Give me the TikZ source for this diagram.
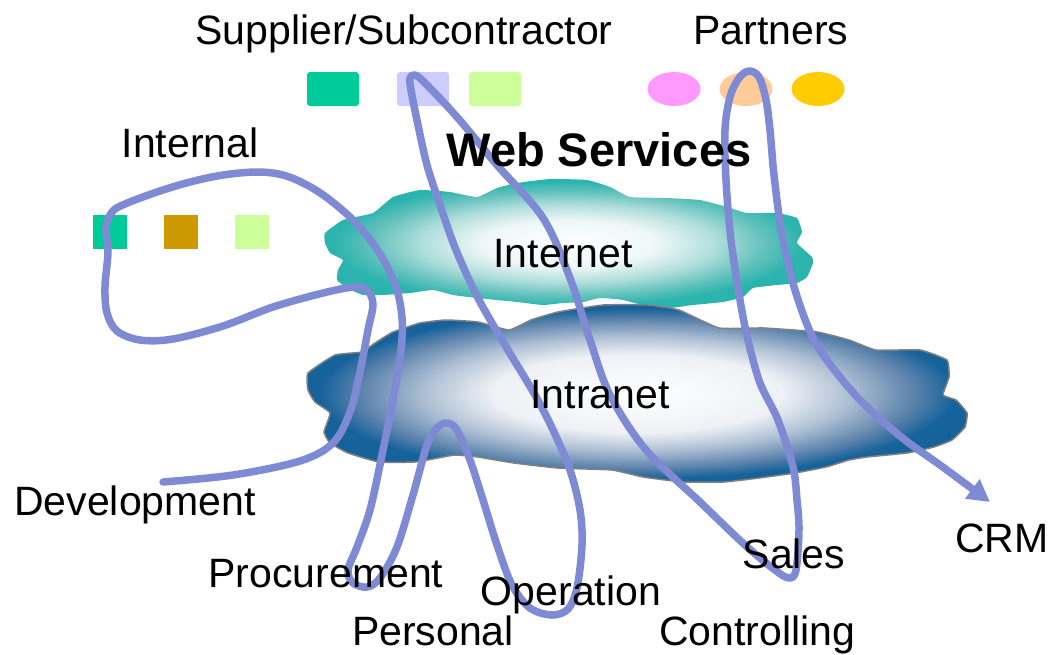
\documentclass[tikz,border=0pt]{standalone}
\usepackage{fontspec}
\setmainfont{Liberation Sans}
\usetikzlibrary{arrows.meta,shapes.geometric}

\definecolor{wireblue}{RGB}{126,138,212}
\definecolor{cloudgray}{RGB}{128,128,128}
\definecolor{netedge}{RGB}{43,179,173}
\definecolor{netmid}{RGB}{100,194,189}
\definecolor{netlight}{RGB}{175,222,219}
\definecolor{netwhite}{RGB}{238,247,247}
\definecolor{lanedge}{RGB}{22,98,155}
\definecolor{lanmid}{RGB}{90,130,171}
\definecolor{lanlight}{RGB}{175,192,212}
\definecolor{lanwhite}{RGB}{238,241,245}
\definecolor{tealsq}{RGB}{0,204,153}
\definecolor{lavsq}{RGB}{204,204,255}
\definecolor{limesq}{RGB}{204,255,153}
\definecolor{brownsq}{RGB}{204,153,0}
\definecolor{pinkov}{RGB}{255,153,255}
\definecolor{peachov}{RGB}{255,204,153}
\definecolor{goldov}{RGB}{255,204,0}

\pgfdeclareradialshading{netglow}{\pgfpoint{0bp}{0bp}}{color(0bp)=(white); color(9bp)=(netwhite); color(15bp)=(netlight); color(20bp)=(netmid); color(24bp)=(netedge); color(50bp)=(netedge)}
\pgfdeclareradialshading{langlow}{\pgfpoint{0bp}{0bp}}{color(0bp)=(white); color(11bp)=(lanwhite); color(16bp)=(lanlight); color(21bp)=(lanmid); color(24bp)=(lanedge); color(50bp)=(lanedge)}

\begin{document}
\begin{tikzpicture}[x=1pt,y=-1pt,
    lbl/.style={anchor=base,inner sep=0pt,font=\fontsize{41}{48}\selectfont},
    wire/.style={draw=wireblue,line width=7.5pt,line cap=round,line join=round},
    tile/.style={inner sep=0pt,minimum width=34pt,minimum height=34pt},
    chip/.style={tile,minimum width=52pt,rounded corners=3pt},
    blob/.style={ellipse,inner sep=0pt,minimum width=53pt,minimum height=34pt}]
        \useasboundingbox (0,0) rectangle (1052,654);
        % clouds
        \shade[shading=netglow] plot[smooth cycle,tension=0.25] coordinates {(325,233) (343,220) (373,213) (393,197) (420,190) (450,192) (477,197) (497,188) (517,183) (550,179) (587,180) (610,187) (630,197) (667,198) (700,200) (727,207) (747,213) (777,213) (797,218) (802,232) (797,243) (812,257) (813,263) (807,277) (797,283) (777,285) (753,288) (743,297) (723,302) (693,305) (670,308) (650,307) (623,300) (600,298) (583,302) (563,303) (543,305) (517,302) (497,300) (477,298) (453,295) (433,290) (410,293) (383,295) (363,295) (347,288) (337,280) (338,270) (343,260) (330,253) (325,243)};
        \shadedraw[shading=langlow,draw=cloudgray,line width=1.5pt] plot[smooth cycle,tension=0.25] coordinates {(308,373) (335,355) (362,352) (375,343) (393,332) (420,323) (446,320) (478,322) (509,330) (531,320) (558,312) (603,305) (648,305) (679,310) (719,328) (764,328) (817,332) (849,340) (876,350) (920,350) (947,360) (949,377) (943,395) (956,400) (967,413) (965,427) (952,440) (934,447) (907,453) (867,457) (849,460) (826,467) (795,473) (759,478) (724,482) (683,482) (643,477) (612,470) (558,468) (514,463) (478,457) (455,455) (438,458) (415,462) (379,462) (348,453) (330,443) (324,432) (330,413) (315,402) (308,390)};
        % suppliers, partners, internal
        \node[chip,fill=tealsq] (sup1) at (333,89) {};
        \node[chip,fill=lavsq] (sup2) at (423,89) {};
        \node[chip,fill=limesq] (sup3) at (495,89) {};
        \node[blob,fill=pinkov] (par1) at (674,89) {};
        \node[blob,fill=peachov] (par2) at (746,89) {};
        \node[blob,fill=goldov] (par3) at (818,89) {};
        \node[tile,fill=tealsq] (int1) at (110,232) {};
        \node[tile,fill=brownsq] (int2) at (181,232) {};
        \node[tile,fill=limesq] (int3) at (252,232) {};
        % the process line
        \coordinate (devend) at (163,482);
        \coordinate (crmtip) at (990,502);
        \draw[wire,-{Triangle[length=22pt,width=23pt]}] plot[smooth,tension=0.55] coordinates {(devend) (233,475) (300,461) (333,443) (350,412) (360,372) (368,330) (373,304) (367,290) (354,287) (323,293) (273,307) (223,326) (173,339) (140,340) (117,331) (107,313) (105,287) (108,252) (106,228) (112,212) (125,204) (157,192) (190,182) (223,175) (257,172) (283,175) (307,185) (330,200) (357,224) (380,254) (396,287) (402,318) (401,350) (393,400) (382,455) (370,510) (357,547) (348,570) (353,583) (367,587) (380,578) (397,547) (413,495) (427,445) (437,428) (447,423) (457,430) (470,460) (483,500) (497,545) (512,585) (530,608) (552,615) (568,609) (577,588) (582,545) (580,510) (570,470) (553,430) (535,395) (505,345) (478,298) (456,250) (440,205) (427,165) (418,125) (411,90) (410,78) (415,75) (425,83) (457,117) (497,165) (543,218) (570,278) (590,340) (610,395) (646,450) (700,502) (745,545) (775,570) (789,578) (796,570) (799,530) (797,500) (793,467) (778,420) (760,383) (748,340) (740,300) (731,240) (726,180) (725,130) (730,97) (739,78) (749,71) (759,77) (766,100) (770,130) (774,175) (782,235) (795,290) (814,340) (840,377) (868,408) (905,440) (940,465) (crmtip)};
        % labels
        \node[lbl] (supl) at (404,44) {Supplier/Subcontractor};
        \node[lbl] (parl) at (771,44) {Partners};
        \node[lbl] (intl) at (190,157) {Internal};
        \node[lbl,font=\fontsize{47}{54}\selectfont\bfseries] (web) at (599,166) {Web Services};
        \node[lbl] (inet) at (563,267) {Internet};
        \node[lbl] (lan) at (600,408) {Intranet};
        \node[lbl] (dev) at (135,515) {Development};
        \node[lbl] (proc) at (326,587) {Procurement};
        \node[lbl] (pers) at (433,645) {Personal};
        \node[lbl] (oper) at (571,605) {Operation};
        \node[lbl] (sales) at (794,568) {Sales};
        \node[lbl] (ctrl) at (757,645) {Controlling};
        \node[lbl] (crm) at (1002,552) {CRM};
\end{tikzpicture}
\end{document}
